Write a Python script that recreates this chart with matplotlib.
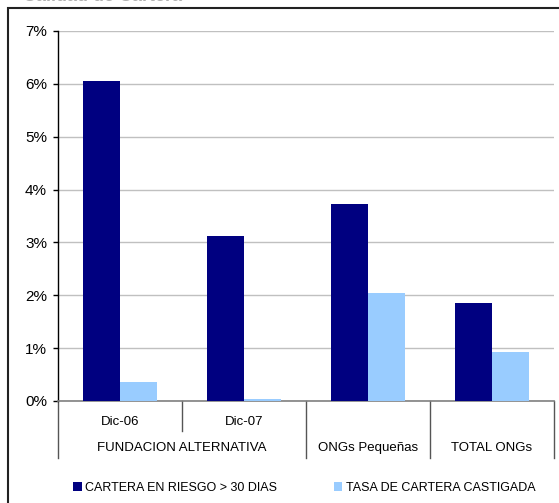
import matplotlib
matplotlib.use("Agg")
import matplotlib.pyplot as plt
from matplotlib.patches import Rectangle
import numpy as np

plt.rcParams['font.family'] = ['Liberation Sans', 'DejaVu Sans']

# Data
sub_labels = ["Dic-06", "Dic-07", "", ""]
group_labels = ["FUNDACION ALTERNATIVA", "ONGs Pequeñas", "TOTAL ONGs"]
group_spans = [(0, 2), (2, 3), (3, 4)]
series_names = ["CARTERA EN RIESGO > 30 DIAS", "TASA DE CARTERA CASTIGADA"]
riesgo = [6.05, 3.12, 3.73, 1.85]
castigada = [0.36, 0.03, 2.05, 0.93]
yticks = [0, 1, 2, 3, 4, 5, 6, 7]
ytick_labels = ["0%", "1%", "2%", "3%", "4%", "5%", "6%", "7%"]

W, H = 559, 503
fig = plt.figure(figsize=(W / 100, H / 100), dpi=100)
ax = fig.add_axes([58 / W, (H - 401) / H, (554 - 58) / W, 370 / H])

x = np.arange(len(riesgo)) + 0.5
bw = 0.295
b1 = ax.bar(x - bw / 2, riesgo, bw, color="#000080", label=series_names[0], zorder=3)
b2 = ax.bar(x + bw / 2, castigada, bw, color="#99CCFF", label=series_names[1], zorder=3)

ax.set_xlim(0, 4)
ax.set_ylim(0, 7)
ax.set_yticks(yticks)
ax.set_yticklabels(ytick_labels, fontsize=11)
ax.tick_params(axis='y', length=3.6, width=1, color='black', pad=4.3)
ax.set_xticks([])
ax.yaxis.grid(True, color="#c0c0c0", linewidth=1)
ax.set_axisbelow(True)
for s in ["top", "right"]:
    ax.spines[s].set_visible(False)
ax.spines["left"].set_color("black")
ax.spines["left"].set_linewidth(1)
ax.spines["bottom"].set_color("#808080")
ax.spines["bottom"].set_linewidth(1.2)

tr = ax.get_xaxis_transform()
ah = 370.0
# separators
for xv in [0, 2, 3, 4]:
    ax.plot([xv, xv], [0, -57 / ah], transform=tr, color="#555555", lw=1, clip_on=False)
ax.plot([1, 1], [0, -30 / ah], transform=tr, color="#555555", lw=1, clip_on=False)

for i, lab in enumerate(sub_labels):
    if lab:
        ax.text(x[i], -21 / ah, lab, transform=tr, ha='center', va='center', fontsize=9.5)
for lab, (a, b) in zip(group_labels, group_spans):
    ax.text((a + b) / 2, -47 / ah, lab, transform=tr, ha='center', va='center', fontsize=9.5)

# outer border
fig.patches.append(Rectangle((7.5 / W, -0.1), 1.2, (H - 8) / H + 0.1, transform=fig.transFigure,
                             fill=False, edgecolor="#222222", lw=1.5))

# clipped title at top
fig.text(23 / W, (H - 1.0) / H, "Calidad de Cartera", fontsize=13, fontweight='bold',
         color="#b0b0b0", ha='left', va='baseline')

leg = fig.legend(handles=[b1, b2], labels=series_names, loc='center', ncol=2,
                 bbox_to_anchor=(304 / W, (H - 488) / H), frameon=False, fontsize=9,
                 handlelength=0.7, handleheight=0.7, handletextpad=0.25, columnspacing=4.55)

fig.savefig("out.png", dpi=100)
